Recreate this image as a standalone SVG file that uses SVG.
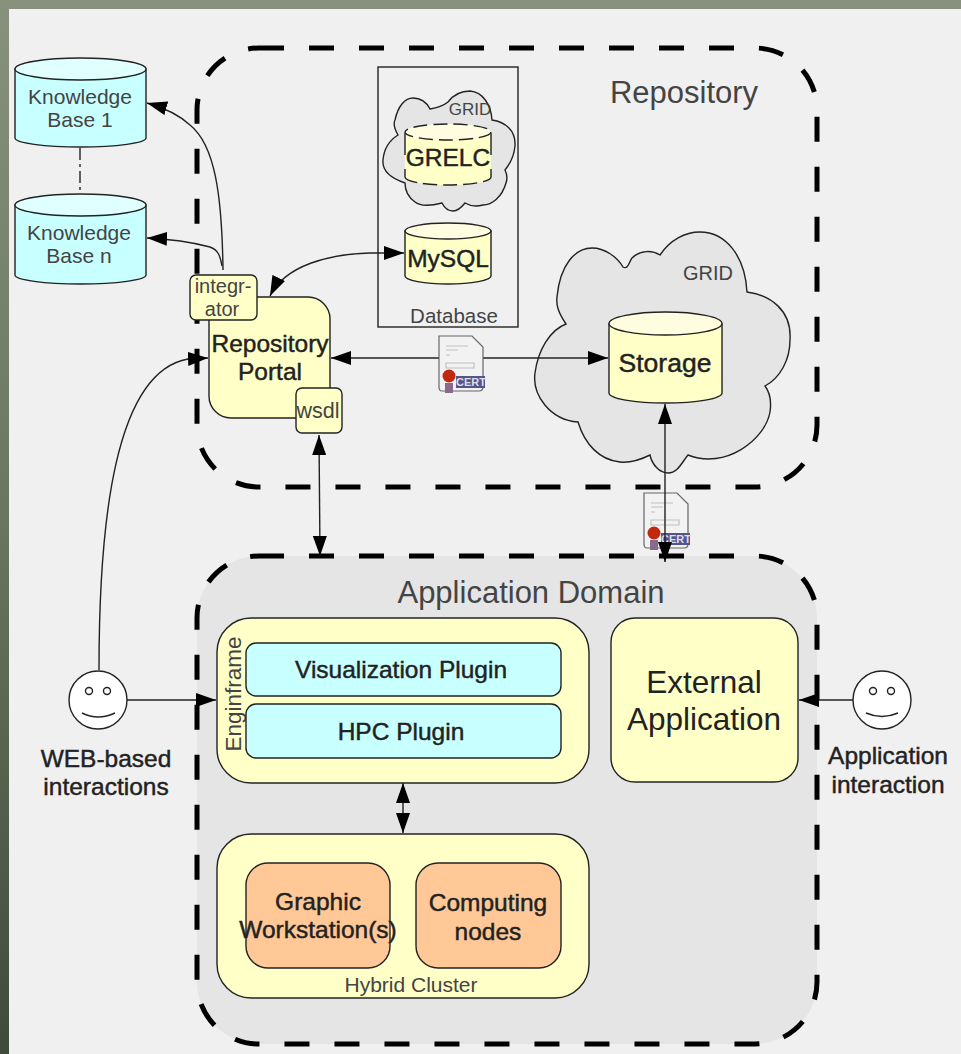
<svg xmlns="http://www.w3.org/2000/svg" width="961" height="1054" viewBox="0 0 961 1054">
<style>
text{font-family:"Liberation Sans",Arial,sans-serif;fill:#222;text-anchor:middle}
.thin{font-weight:400;fill:#444}
.b{stroke:#222;stroke-width:.45}
.line{fill:none;stroke:#222;stroke-width:1.4}
.dash{fill:none;stroke:#000;stroke-width:5;stroke-dasharray:25 25}
.y{fill:#ffffc8;stroke:#222;stroke-width:1.4}
.cy{fill:#c8ffff;stroke:#222;stroke-width:1.4}
.cyt{fill:#e0ffff;stroke:#222;stroke-width:1.4}
.yt{fill:#fffde0;stroke:#222;stroke-width:1.4}
.o{fill:#ffc896;stroke:#222;stroke-width:1.4}
.cloud{fill:#e5e5e5;stroke:#222;stroke-width:1.4}
.face{fill:#fff;stroke:#222;stroke-width:1.4}
</style>
<defs>
<linearGradient id="bg" x1="0" y1="0" x2="0" y2="1"><stop offset="0" stop-color="#87917c"/><stop offset=".5" stop-color="#6a7560"/><stop offset="1" stop-color="#3f4a3a"/></linearGradient>
<marker id="a" markerWidth="22" markerHeight="14" refX="20" refY="7" orient="auto-start-reverse" markerUnits="userSpaceOnUse"><path d="M0 0L20 7L0 14z" fill="#000"/></marker>
<g id="cert">
<path d="M1 1H34L45 12V52Q45 56 41 56H4Q1 56 1 52z" fill="#f2f2f2" stroke="#666" stroke-width="1.200"/>
<path d="M8 11H30M8 15H20M8 20H12M8 28H36V33H8z" fill="none" stroke="#c0c0c0" stroke-width="1.200"/>
<rect x="18" y="41" width="29" height="12" fill="#55558a"/>
<text x="33" y="51" style="font-size:11px;font-weight:700;fill:#dde">CERT</text>
<rect x="7" y="48" width="8" height="10" fill="#8a6a8a"/>
<circle cx="11" cy="41" r="6.500" fill="#c02810"/>
</g>
</defs>
<rect width="961" height="1054" fill="url(#bg)"/>
<rect x="9" y="9" width="952" height="1045" fill="#f0f0f0"/>

<g id="application-domain">
<rect x="197" y="556" width="620" height="488" rx="62" fill="#e5e5e5"/>
<rect class="dash" x="197" y="556" width="620" height="488" rx="62"/>
<text x="531" y="603" style="font-size:31px" class="thin">Application Domain</text>
</g>
<g id="repository">
<rect class="dash" x="197" y="48" width="620" height="439" rx="62"/>
<text x="684" y="103" style="font-size:31px" class="thin">Repository</text>
</g>
<g id="database">
<rect x="378" y="67" width="140" height="260" fill="none" stroke="#222" stroke-width="1.400"/>
<text x="454" y="323" style="font-size:20.500px" class="thin">Database</text>
</g>
<g id="grid-small">
<path class="cloud" d="M492 120C505 122 516 130 515 146C514 156 510 164 505 170C508 176 507 180 506 183C502 197 492 205 483 205C475 207 470 206 465 203C461 208 457 211 453 211C448 211 444 207 442 203C430 206 420 206 415 202C408 197 405 190 405 183C390 178 382 170 383 160C384 148 390 140 398 135C394 128 393 124 395 120C398 106 405 98 413 98C421 98 427 103 430 109C437 108 443 106 448 102C454 94 462 91 470 91C483 92 491 105 492 120z"/>
<text x="470" y="115" style="font-size:17px" class="thin">GRID</text>
</g>
<g id="grelc">
<path d="M405 133V177A43 8 0 0 0 491 177V133z" fill="#ffffc8"/>
<path d="M405 133V177M491 133V177" stroke="#222" stroke-width="1.400" stroke-dasharray="22 14" fill="none"/>
<path d="M405 177A43 8 0 0 0 491 177" stroke="#222" stroke-width="1.400" stroke-dasharray="14 6" fill="none"/>
<ellipse cx="448" cy="132" rx="43" ry="8" fill="#fffde0" stroke="#222" stroke-width="1.400" stroke-dasharray="14 6"/>
<text x="448" y="166" class="b" style="font-size:24.500px">GRELC</text>
</g>
<g id="mysql">
<path class="y" d="M405 231V276A43 8 0 0 0 491 276V231z"/>
<ellipse class="yt" cx="448" cy="231" rx="43" ry="8"/>
<text x="448" y="267" class="b" style="font-size:24.500px">MySQL</text>
</g>
<g id="grid-large">
<path class="cloud" d="M747 292C770 295 792 310 790 340C790 360 780 378 765 386C772 395 771 405 770 412C765 440 725 470 688 455C682 462 678 473 668 473C660 473 652 465 650 455C640 460 630 463 620 462C600 460 585 445 578 422C550 420 532 395 535 373C538 350 550 330 566 324C558 312 556 305 557 297C560 265 575 248 592 248C605 248 617 257 623 267C628 270 629 262 632 258C640 250 652 250 660 255C670 240 685 232 700 232C725 232 745 255 747 292z"/>
<text x="708" y="280" style="font-size:20px" class="thin">GRID</text>
</g>
<g id="storage">
<path class="y" d="M609 324V393A56.500 10 0 0 0 722 393V324z"/>
<ellipse class="yt" cx="665.500" cy="323.500" rx="56.500" ry="11.500"/>
<text x="665" y="372" class="b" style="font-size:26.500px">Storage</text>
</g>
<g id="knowledge-base-1">
<path class="cy" d="M15 69V138A65.500 9 0 0 0 146 138V69z"/>
<ellipse class="cyt" cx="80.500" cy="69" rx="65.500" ry="11"/>
<text x="80" y="104" style="font-size:21px" class="thin">Knowledge</text>
<text x="80" y="127" style="font-size:21px" class="thin">Base 1</text>
</g>
<g id="knowledge-base-n">
<path class="cy" d="M15 205V275A65.500 9 0 0 0 146 275V205z"/>
<ellipse class="cyt" cx="80.500" cy="205" rx="65.500" ry="11"/>
<text x="79" y="240" style="font-size:21px" class="thin">Knowledge</text>
<text x="79" y="263" style="font-size:21px" class="thin">Base n</text>
</g>
<use href="#cert" x="643" y="492"/>
<g id="connectors">
<path class="line" stroke-dasharray="12 4 3 4" d="M80 148V194"/>
<path class="line" marker-end="url(#a)" d="M223 270C222 195 215 145 190 125C178 114 165 108 147 103"/>
<path class="line" marker-end="url(#a)" d="M222 266C220 255 218 250 210 247C195 243 170 239 147 238"/>
<path class="line" marker-start="url(#a)" marker-end="url(#a)" d="M270 296C285 265 330 254 370 253L404 253"/>
<path class="line" marker-end="url(#a)" d="M99 670C99 520 115 372 188 359L208 358"/>
<path class="line" marker-start="url(#a)" marker-end="url(#a)" d="M331 358H608"/>
<path class="line" marker-start="url(#a)" marker-end="url(#a)" d="M319 435L320 556"/>
<path class="line" marker-start="url(#a)" marker-end="url(#a)" d="M665 404V562"/>
<path class="line" marker-end="url(#a)" d="M127 700H216"/>
<path class="line" marker-end="url(#a)" d="M854 700H799"/>
<path class="line" stroke-width="2" marker-start="url(#a)" marker-end="url(#a)" d="M403 783V833"/>
</g>
<g id="repository-portal">
<rect class="y" x="209" y="297" width="121" height="121" rx="22"/>
<text x="270" y="352" class="b" style="font-size:24.500px">Repository</text>
<text x="270" y="380" class="b" style="font-size:24.500px">Portal</text>
</g>
<g id="integrator">
<rect class="y" x="190" y="275" width="67" height="45" rx="6"/>
<text x="223" y="293" style="font-size:20px" class="thin">integr-</text>
<text x="222" y="316" style="font-size:20px" class="thin">ator</text>
</g>
<g id="wsdl">
<rect class="y" x="296" y="388" width="46" height="45" rx="6"/>
<text x="318" y="418" style="font-size:21.500px" class="thin">wsdl</text>
</g>
<use href="#cert" x="438" y="335"/>
<g id="enginframe">
<rect class="y" x="217" y="618" width="372" height="165" rx="34"/>
<text transform="translate(241 694) rotate(-90)" style="font-size:22.500px" class="thin">Enginframe</text>
</g>
<g id="visualization-plugin">
<rect class="cy" x="246" y="643" width="315" height="53" rx="10"/>
<text x="401" y="678" class="b" style="font-size:24.500px">Visualization Plugin</text>
</g>
<g id="hpc-plugin">
<rect class="cy" x="246" y="704" width="315" height="54" rx="10"/>
<text x="401" y="740" class="b" style="font-size:24.500px">HPC Plugin</text>
</g>
<g id="external-application">
<rect class="y" x="611" y="618" width="187" height="164" rx="24"/>
<text x="704" y="693" style="font-size:31.500px">External</text>
<text x="704" y="730" style="font-size:31.500px">Application</text>
</g>
<g id="hybrid-cluster">
<rect class="y" x="217" y="834" width="372" height="164" rx="34"/>
<text x="411" y="992" style="font-size:21px" class="thin">Hybrid Cluster</text>
</g>
<g id="graphic-workstation">
<rect class="o" x="246" y="863" width="144" height="105" rx="22"/>
<text x="318" y="910" class="b" style="font-size:24.500px">Graphic</text>
<text x="318" y="938" class="b" style="font-size:24.500px">Workstation(s)</text>
</g>
<g id="computing-nodes">
<rect class="o" x="416" y="863" width="145" height="105" rx="22"/>
<text x="488" y="911" class="b" style="font-size:24.500px">Computing</text>
<text x="488" y="940" class="b" style="font-size:24.500px">nodes</text>
</g>
<g id="web-user">
<circle class="face" cx="98" cy="700" r="29"/>
<circle cx="89" cy="691" r="3.500" fill="#fff" stroke="#222" stroke-width="1.400"/>
<circle cx="107" cy="691" r="3.500" fill="#fff" stroke="#222" stroke-width="1.400"/>
<path class="line" d="M82 713Q98 721 115 713"/>
<text x="106" y="767" class="b" style="font-size:24.500px">WEB-based</text>
<text x="106" y="795" class="b" style="font-size:24.500px">interactions</text>
</g>
<g id="app-user">
<circle class="face" cx="882" cy="700" r="29"/>
<circle cx="873" cy="691" r="3.500" fill="#fff" stroke="#222" stroke-width="1.400"/>
<circle cx="891" cy="691" r="3.500" fill="#fff" stroke="#222" stroke-width="1.400"/>
<path class="line" d="M866 713Q882 720 898 713"/>
<text x="888" y="764" class="b" style="font-size:24.500px">Application</text>
<text x="888" y="793" class="b" style="font-size:24.500px">interaction</text>
</g>
</svg>
